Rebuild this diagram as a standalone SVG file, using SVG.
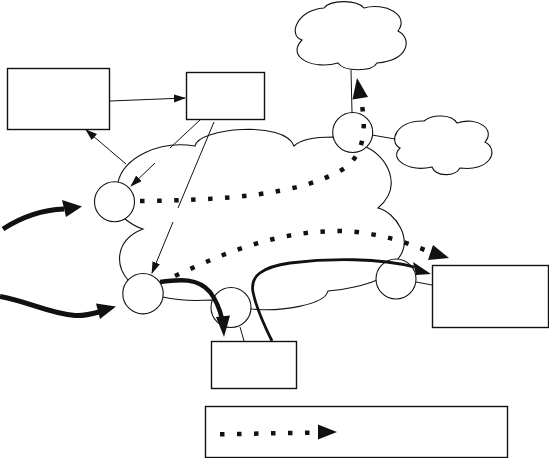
<svg xmlns="http://www.w3.org/2000/svg" width="549" height="458" viewBox="0 0 549 458">
<defs>
<style>
.box{fill:#fff;stroke:#111;stroke-width:1.4}
.cloud{fill:#fff;stroke:#111;stroke-width:1.1}
.node{fill:#fff;stroke:#111;stroke-width:1.1}
.thin{fill:none;stroke:#111;stroke-width:1}
.dot{fill:none;stroke:#111;stroke-width:4.5;stroke-dasharray:4.5 12.5}
.thick{fill:none;stroke:#111}
.head{fill:#111;stroke:none}
</style>
<marker id="ah" markerWidth="12" markerHeight="10" refX="11" refY="4" orient="auto" markerUnits="userSpaceOnUse">
<path d="M0,0 L12,4 L0,8 Z" fill="#111"/>
</marker>
</defs>
<rect width="549" height="458" fill="#fff"/>

<g id="network-cloud">
<path class="cloud" d="M118,182 C124,158 158,140 195,146 C198,128 285,120 294,146 C300,140 315,137 333,137 L366,147 C385,155 405,185 378,208 C395,212 415,240 397,260 L377,280 C365,285 345,290 328,291 C325,305 280,312 252,309 L212,300 C195,301 175,300 163,297 L128,280 C115,265 115,240 143,229 C136,227 130,223 125,219 Z"/>
</g>
<g id="cloud-top">
<path class="cloud" d="M302,40 C288,36 296,10 324,8 C330,0 356,-1 364,8 C385,2 410,15 398,31 C412,38 410,60 377,63 C372,72 344,72 338,63 C315,70 285,58 302,40 Z"/>
</g>
<g id="cloud-right">
<path class="cloud" d="M400,148 C388,142 396,120 424,121 C432,114 452,114 457,123 C478,116 496,130 485,142 C500,150 490,172 460,168 C455,177 436,177 432,167 C410,172 388,160 400,148 Z"/>
</g>

<g id="box-a"><rect class="box" x="7.5" y="68.5" width="102" height="61"/></g>
<g id="box-b"><rect class="box" x="186.5" y="72.5" width="78" height="47"/></g>
<g id="box-c"><rect class="box" x="432.5" y="265.5" width="116" height="62"/></g>
<g id="box-d"><rect class="box" x="211.5" y="341.5" width="85" height="47"/></g>
<g id="legend"><rect class="box" x="205.5" y="406.5" width="302" height="51"/></g>

<g id="connectors">
<line class="thin" x1="110" y1="101" x2="185" y2="98" marker-end="url(#ah)"/>
<line class="thin" x1="126" y1="164" x2="86" y2="130" marker-end="url(#ah)"/>
<line class="thin" x1="200" y1="120" x2="170" y2="148"/>
<line class="thin" x1="155" y1="163" x2="131" y2="186" marker-end="url(#ah)"/>
<line class="thin" x1="214" y1="122" x2="178" y2="208"/>
<line class="thin" x1="173" y1="222" x2="152" y2="273" marker-end="url(#ah)"/>
<line class="thin" x1="352" y1="112" x2="351" y2="70"/>
<line class="thin" x1="372" y1="135" x2="395" y2="139"/>
<line class="thin" x1="240" y1="327" x2="244" y2="341"/>
<line class="thin" x1="416" y1="282" x2="432" y2="285"/>
</g>

<g id="node-1"><circle class="node" cx="114.5" cy="201.7" r="20"/></g>
<g id="node-2"><circle class="node" cx="143" cy="293.7" r="20.2"/></g>
<g id="node-3"><circle class="node" cx="231" cy="307.5" r="20"/></g>
<g id="node-4"><circle class="node" cx="396" cy="279" r="20"/></g>
<g id="node-5"><circle class="node" cx="352.7" cy="132.5" r="20"/></g>

<g id="flows">
<path class="dot" d="M140,201 C220,200 300,196 345,168 C366,152 366,125 361,100"/>
<polygon class="head" points="357,78 352.5,99.5 368,97"/>
<path class="dot" d="M175,276 C230,250 280,231 340,231 C380,232 410,244 430,252"/>
<polygon class="head" points="449,258 433,245 428,260"/>
<path class="dot" d="M220,434.3 L318,432.5"/>
<polygon class="head" points="318,424.5 318,439.5 337,432"/>

<path class="thick" stroke-width="4.5" d="M160,282 C180,279 198,278 210,292 C216,300 220,310 222,319"/>
<polygon class="head" points="216,317 230,315.5 224,337"/>
<path class="thick" stroke-width="2.8" d="M272,341 C264,325 256,307 253,292 C250,276 262,267 290,263 C330,258 380,258 414,267"/>
<polygon class="head" points="413,262 416,275 431,274"/>
<path class="thick" stroke-width="5" d="M3,229 C20,218 40,210 64,209"/>
<polygon class="head" points="62,200 66,217 82,206.5"/>
<path class="thick" stroke-width="5" d="M0,296.5 C30,302 50,314 75,315.5 C85,316 92,314 99,312"/>
<polygon class="head" points="96,303.5 100,319 116,306.5"/>
</g>
</svg>
